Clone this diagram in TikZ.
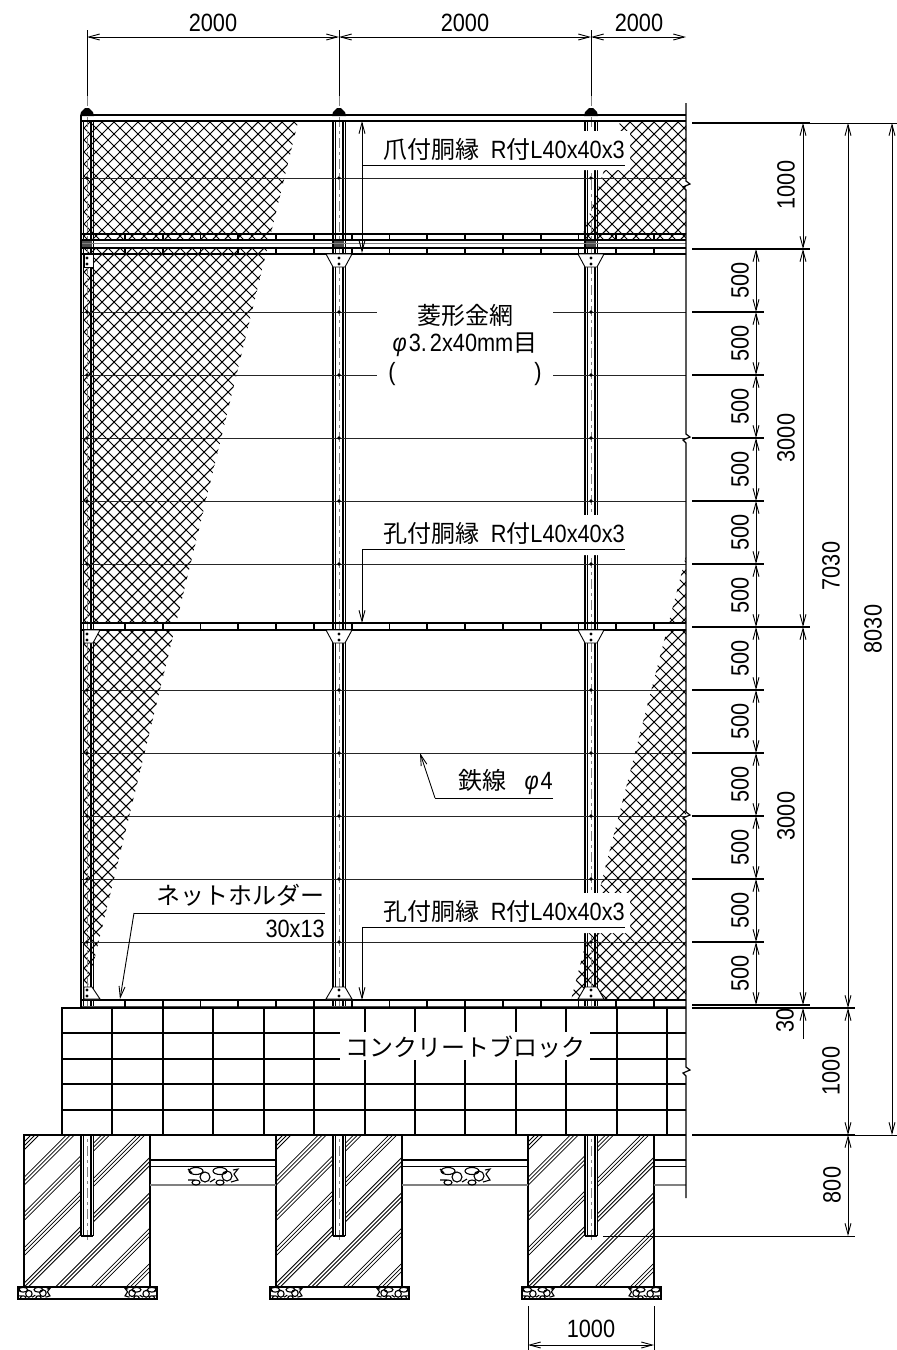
\documentclass[tikz,border=0pt]{standalone}
\usepackage{fontspec}
\setmainfont[FakeStretch=0.87]{Liberation Sans}
\newfontfamily\jp[Scale=0.96]{Noto Sans CJK JP}
\usetikzlibrary{arrows.meta}
\tikzset{
  stones/.pic={
    \draw[line width=1.1pt] (17,10) circle (5) (39,9) circle (5)
      (8,4) ellipse (7 and 3.5) (32,4) ellipse (7 and 3.5)
      (8,15.5) ellipse (4 and 2.5) (32,15.5) ellipse (4 and 2.5)
      (0,2)--(4,6) (0,13)--(7,13) (22,15)--(27,12) (45,3)--(50,2)--(46,7)--(50,13)--(43,15);
  }
}
\begin{document}
\begin{tikzpicture}[x=1pt,y=-1pt]
	\tikzstyle{lbl}=[inner sep=0pt,font=\fontsize{25}{25}\selectfont]
	\tikzstyle{rlbl}=[lbl,rotate=90]
	\tikzstyle{thinl}=[line width=0.9pt]
	\tikzstyle{thickl}=[line width=1.8pt]
	\tikzstyle{wirel}=[line width=0.85pt,black!85]
	\tikzstyle{dim}=[line width=0.9pt,{Straight Barb[length=11pt,width=6pt]}-{Straight Barb[length=11pt,width=6pt]}]
	\tikzstyle{tip}=[line width=0.9pt,-{Straight Barb[length=11pt,width=6pt]}]
	\tikzstyle{centerl}=[line width=0.9pt,gray,dash pattern=on 10pt off 4pt on 3pt off 4pt]
	\useasboundingbox (0,0) rectangle (897,1350);
	\fill[white] (0,0) rectangle (897,1350);
	% mesh
	\begin{scope}
		\clip (84,122) -- (298,122) -- (84,1002) -- cycle
			(620,122) -- (686,122) -- (686,240) -- (581,240) -- cycle
			(686,556) -- (686,1000) -- (571,1000) -- cycle;
		\foreach \k in {0,...,125}{
			\pgfmathsetmacro{\s}{200+12*\k}
			\pgfmathsetmacro{\d}{-920+12*\k}
			\draw[line width=1.05pt] (\s,0) -- (\s-1400,1400);
			\draw[line width=1.05pt] (\d,0) -- (\d+1400,1400);
		}
	\end{scope}
	\fill[white] (81,241) rectangle (686,247) (81,623) rectangle (686,630) (81,1000) rectangle (686,1007);
	% footings
	\foreach \c in {87,339,591}{
		\begin{scope}
			\clip (\c-63,1135) rectangle (\c+63,1287);
			\foreach \k in {0,...,8}{
				\pgfmathsetmacro{\s}{\c-87+1166+35.3*\k}
				\foreach \t in {0,4,8}
					\draw[line width=0.8pt] (\s+\t-1100,1100) -- (\s+\t-1400,1400);
			}
		\end{scope}
		\fill[white] (\c-6,1135) rectangle (\c+6,1236);
		\draw[thickl] (\c-63,1135) rectangle (\c+63,1287);
		\draw[thickl,fill=white] (\c-69,1287) rectangle (\c+70,1299);
		\pic[xscale=.64,yscale=.68] at (\c-69,1287) {stones};
		\pic[xscale=-.64,yscale=.68] at (\c+70,1287) {stones};
		\draw[centerl] (\c,96) -- (\c,1242);
		\foreach \xx in {-6.2,-3.8,3.8,6.2}{
			\draw[line width=1.4pt] (\c+\xx,121) -- (\c+\xx,1008);
			\draw[line width=1.4pt] (\c+\xx,1135) -- (\c+\xx,1236);
		}
		\draw[thickl] (\c-6,1236) -- (\c+6,1236);
		\fill (\c-7,116) -- (\c-6,112) -- (\c-2,108) -- (\c+2,108) -- (\c+6,112) -- (\c+7,116) -- cycle;
		\fill[black!70] (\c-5,240) rectangle (\c+5,248);
	}
	% tie beams
	\foreach \xa/\xb in {150/276,402/528,654/686}{
		\draw[thickl] (\xa,1160) -- (\xb,1160);
		\draw[thinl] (\xa,1166) -- (\xb,1166);
		\draw[thickl,gray] (\xa,1185) -- (\xb,1185);
	}
	\pic at (188,1167) {stones};
	\pic at (440,1167) {stones};
	% wires
	\foreach \yy in {178,438,501,564,690,753,816,879,942}
		\draw[wirel] (81,\yy) -- (686,\yy);
	\foreach \yy in {312,375}{
		\draw[wirel] (81,\yy) -- (377,\yy);
		\draw[wirel] (553,\yy) -- (686,\yy);
	}
	\foreach \yy in {178,312,375,438,501,564,690,753,816,879,942}
		\foreach \c in {87,339,591}
			\fill (\c,\yy) circle (1.8);
	% beams
	\foreach \yy in {115,121,234,240,248,254,623,630,1000}
		\draw[thickl] (81,\yy) -- (686,\yy);
	\draw[line width=1.2pt,gray] (81,243.5) -- (686,243.5);
	\draw[line width=1.2pt,black!70] (81,1007) -- (686,1007);
	\foreach \ya/\yb in {234/240,248/254,623/630,1000/1007}
		\foreach \k in {1,...,15}{
			\pgfmathsetmacro{\x}{87+37.8*\k}
			\draw[line width=1.8pt] (\x,\ya) -- (\x,\yb);
		}
	\draw[line width=1.5pt] (81,115) -- (81,1008);
	% gussets
	\foreach \c in {339,591}{
		\draw[line width=0.9pt,fill=white] (\c-13,254) -- (\c+13,254) -- (\c+6,267) -- (\c-6,267) -- cycle;
		\draw[line width=0.9pt,fill=white] (\c-13,630) -- (\c+13,630) -- (\c+6,643) -- (\c-6,643) -- cycle;
		\draw[line width=0.9pt,fill=white] (\c-13,999) -- (\c+13,999) -- (\c+6,987) -- (\c-6,987) -- cycle;
		\fill (\c,258) circle (1.6) (\c,264) circle (1.6) (\c,634) circle (1.6) (\c,640) circle (1.6)
			(\c,990) circle (1.6) (\c,996) circle (1.6);
	}
	\draw[line width=0.9pt,fill=white] (84,254) -- (93,254) -- (93,267) -- (84,267) -- cycle;
	\draw[line width=0.9pt,fill=white] (84,630) -- (100,630) -- (93,643) -- (84,643) -- cycle;
	\draw[line width=0.9pt,fill=white] (84,999) -- (100,999) -- (92,987) -- (84,987) -- cycle;
	\fill (87,258) circle (1.6) (87,264) circle (1.6) (87,634) circle (1.6) (87,640) circle (1.6)
		(87,990) circle (1.6) (87,996) circle (1.6);
	% block
	\fill[white] (62,1008) rectangle (686,1135);
	\draw[thickl] (686,1008) -- (62,1008) -- (62,1135) -- (686,1135);
	\foreach \yy in {1033,1059,1084,1110}
		\draw[thickl] (62,\yy) -- (686,\yy);
	\foreach \x in {112,163,213,264,314,365,415,465,516,566,617,667}
		\draw[thickl] (\x,1008) -- (\x,1135);
	\fill[white] (340,1032) rectangle (590,1060);
	\node[lbl] (block) at (465,1047) {\jp コンクリートブロック};
	% right edge
	\draw[line width=1.2pt] (686,103) -- (686,181) -- ++(4,3) -- ++(-7,3) -- ++(3,3)
		-- (686,434) -- ++(4,3) -- ++(-7,3) -- ++(3,3)
		-- (686,812) -- ++(4,3) -- ++(-7,3) -- ++(3,3)
		-- (686,1067) -- ++(4,3) -- ++(-7,3) -- ++(3,3) -- (686,1198);
	% labels
	\fill[white] (360,131) rectangle (630,170) (360,515) rectangle (630,555) (360,893) rectangle (630,933);
	\foreach \nm/\yy/\txt in {lblA/165/爪付胴縁,lblB/549/孔付胴縁,lblC/927/孔付胴縁}{
		\node[lbl,anchor=base east] (\nm) at (625,\yy-7) {{\jp\txt}\hspace{11pt}R{\jp 付}L40x40x3};
		\draw[thinl] (362,\yy) -- (\nm.base east |- 0,\yy);
	}
	\coordinate (a1) at (362,121);
	\coordinate (a2) at (362,253);
	\coordinate (a3) at (362,623);
	\coordinate (a4) at (362,1000);
	\draw[dim] (a1) -- (a2);
	\draw[tip] (362,549) -- (a3);
	\draw[tip] (362,927) -- (a4);
	\node[lbl] (mesh) at (465,315) {\jp 菱形金網};
	\node[lbl,anchor=base] (size) at (465,351) {{\itshape φ}\hspace{2pt}3.\hspace{3pt}2x40mm{\jp 目}};
	\node[lbl] (pl) at (392,374) {(};
	\node[lbl] (pr) at (538,374) {)};
	\node[lbl,anchor=base east] (wire) at (553,789) {{\jp 鉄線}\hspace{18pt}{\itshape φ}\hspace{2pt}4};
	\coordinate (w1) at (435,798);
	\coordinate (w2) at (420,753);
	\draw[thinl] (wire.base east |- w1) -- (w1);
	\draw[tip] (w1) -- (w2);
	\node[lbl,anchor=east] (holder) at (325,895) {\jp ネットホルダー};
	\node[lbl,anchor=base east] (holdersize) at (325,937) {30x13};
	\coordinate (h1) at (134,913);
	\coordinate (h2) at (120,999);
	\draw[thinl] (325,913) -- (h1);
	\draw[tip] (h1) -- (h2);
	% dimensions top
	\foreach \x in {87,339,591}
		\draw[thinl] (\x,30) -- (\x,96);
	\draw[dim] (87,37) -- (339,37);
	\draw[dim] (339,37) -- (591,37);
	\draw[dim] (591,37) -- (686,37);
	\node[lbl] (t1) at (213,23) {2000};
	\node[lbl] (t2) at (465,23) {2000};
	\node[lbl] (t3) at (639,23) {2000};
	% dimensions bottom
	\draw[thinl] (528,1306) -- (528,1350);
	\draw[thinl] (654,1306) -- (654,1350);
	\draw[dim] (528,1345) -- (654,1345);
	\node[lbl] (b1) at (591,1329) {1000};
	% dimensions right
	\foreach \yy in {312,375,438,501,564,690,753,816,879,942}
		\draw[line width=1.2pt] (692,\yy) -- (764,\yy);
	\foreach \yy in {249,627,1005}
		\draw[line width=1.2pt] (692,\yy) -- (810,\yy);
	\draw[line width=1.2pt] (692,123) -- (810,123);
	\draw[thinl] (810,123) -- (897,123);
	\draw[line width=1.2pt] (692,1008) -- (855,1008);
	\draw[line width=1.2pt] (692,1135) -- (855,1135);
	\draw[thinl] (855,1135) -- (897,1135);
	\draw[thinl] (603,1236) -- (855,1236);
	\foreach \ya/\yb [count=\i] in {249/312,312/375,375/438,438/501,501/564,564/627,627/690,690/753,753/816,816/879,879/942,942/1005}{
		\draw[dim] (756,\ya) -- (756,\yb);
		\node[rlbl] (h\i) at (740,{(\ya+\yb)/2}) {500};
	}
	\draw[dim] (803,123) -- (803,249);
	\draw[dim] (803,249) -- (803,627);
	\draw[dim] (803,627) -- (803,1005);
	\draw[tip] (803,1039) -- (803,1008);
	\node[rlbl] (v1) at (786,185) {1000};
	\node[rlbl] (v2) at (786,438) {3000};
	\node[rlbl] (v3) at (786,816) {3000};
	\node[rlbl] (v4) at (785,1020) {30};
	\draw[dim] (848,123) -- (848,1008);
	\draw[dim] (848,1008) -- (848,1135);
	\draw[dim] (848,1135) -- (848,1236);
	\node[rlbl] (v5) at (831,566) {7030};
	\node[rlbl] (v6) at (831,1071) {1000};
	\node[rlbl] (v7) at (832,1185) {800};
	\draw[dim] (892,123) -- (892,1135);
	\node[rlbl] (v8) at (873,629) {8030};
\end{tikzpicture}
\end{document}
